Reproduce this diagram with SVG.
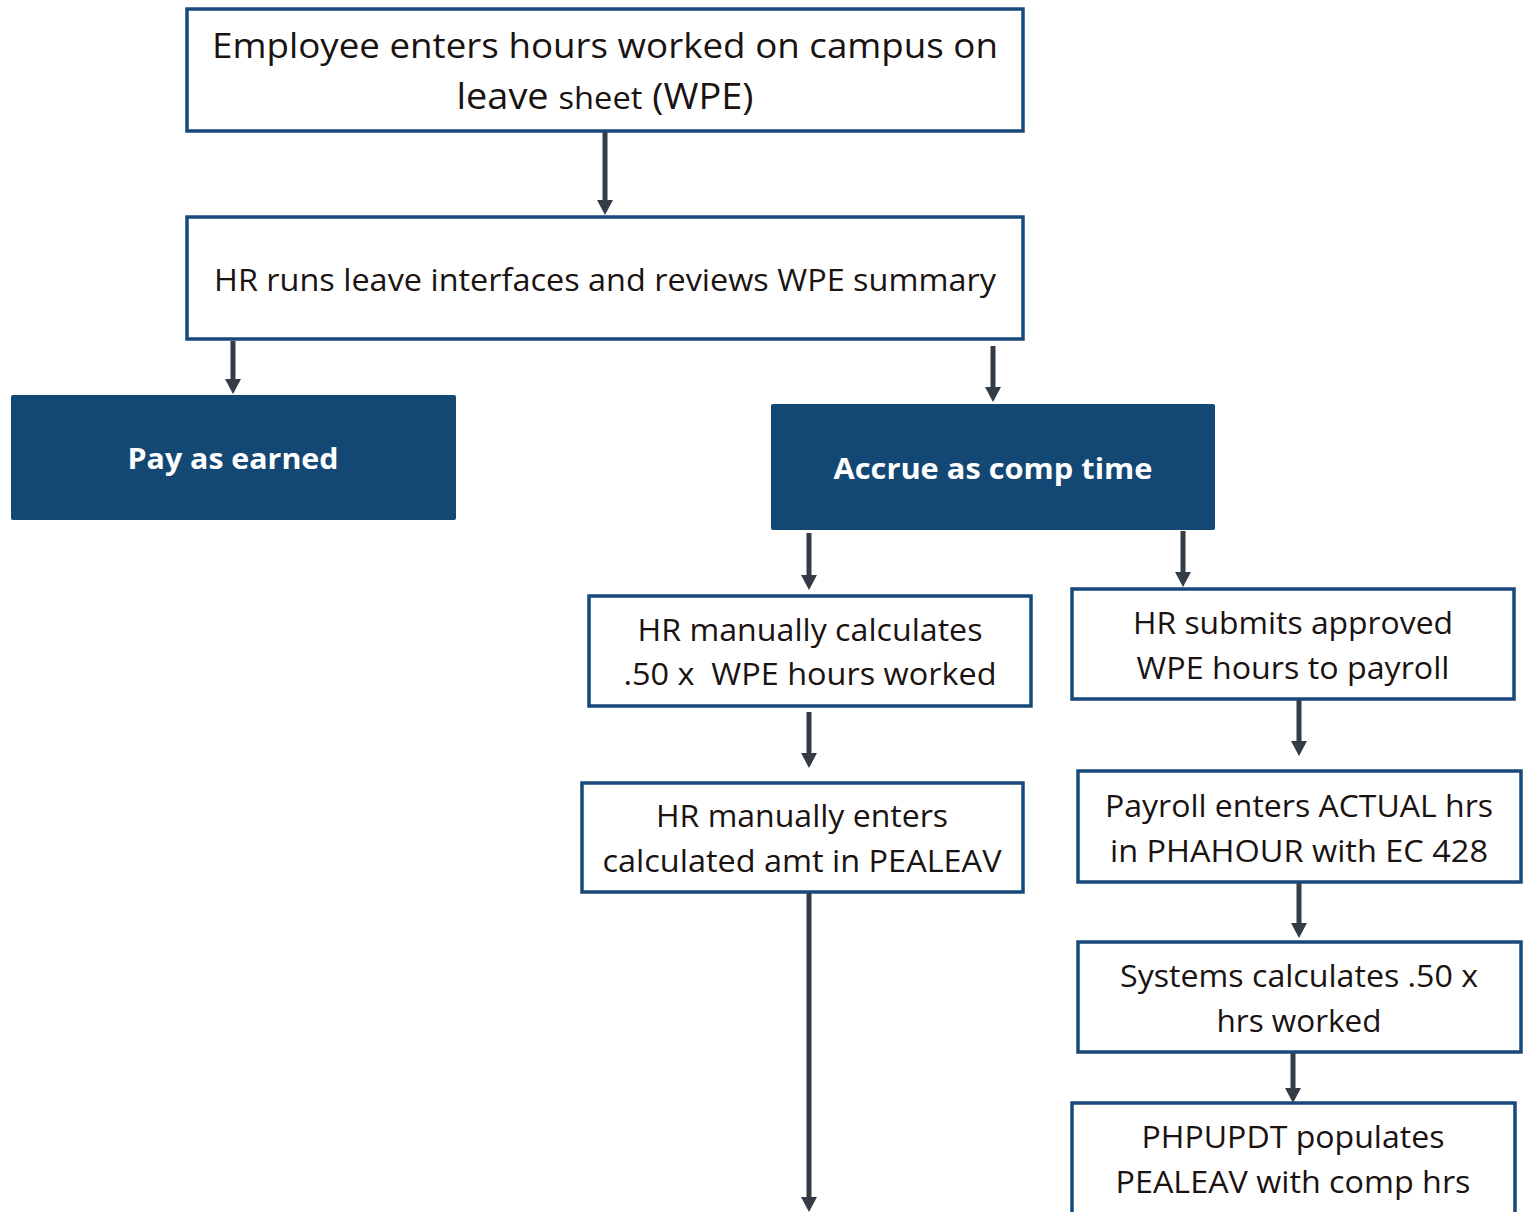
<svg xmlns="http://www.w3.org/2000/svg" width="1527" height="1212" viewBox="0 0 1527 1212">
<defs>
<marker id="ah" markerUnits="userSpaceOnUse" viewBox="0 -8 15 16" refX="0" refY="0" markerWidth="15" markerHeight="16" orient="auto">
<path d="M0,-8 L15,0 L0,8 z" fill="#343d45"/>
</marker>
</defs>
<style>
.box{fill:#ffffff;stroke:#17497a;stroke-width:3.5}
.dark{fill:#134874;stroke:none}
.t{font-family:"Open Sans","Noto Sans",sans-serif;fill:#1a1311;text-anchor:middle}
.w{font-family:"Open Sans","Noto Sans",sans-serif;fill:#ffffff;font-weight:bold;text-anchor:middle}
.c{stroke:#343d45;stroke-width:5;fill:none;marker-end:url(#ah)}
</style>
<rect width="1527" height="1212" fill="#ffffff"/>
<g id="connectors">
<line class="c" x1="605" y1="132" x2="605" y2="200"/>
<line class="c" x1="233" y1="341" x2="233" y2="379"/>
<line class="c" x1="993" y1="346" x2="993" y2="387"/>
<line class="c" x1="809" y1="533" x2="809" y2="575"/>
<line class="c" x1="1183" y1="531" x2="1183" y2="572"/>
<line class="c" x1="809" y1="712" x2="809" y2="753"/>
<line class="c" x1="1299" y1="700" x2="1299" y2="741"/>
<line class="c" x1="809" y1="893" x2="809" y2="1197"/>
<line class="c" x1="1299" y1="883" x2="1299" y2="923"/>
<line class="c" x1="1293" y1="1046" x2="1293" y2="1088"/>
</g>
<g id="n1">
<rect class="box" x="187" y="9" width="836" height="122"/>
<text class="t" x="605" y="58" font-size="34" textLength="786" lengthAdjust="spacingAndGlyphs">Employee enters hours worked on campus on</text>
<text class="t" x="605" y="109" font-size="36" textLength="297" lengthAdjust="spacingAndGlyphs"><tspan>leave </tspan><tspan font-size="31">sheet</tspan><tspan> (WPE)</tspan></text>
</g>
<g id="n2">
<rect class="box" x="187" y="217" width="836" height="122"/>
<text class="t" x="605" y="291" font-size="31" textLength="782" lengthAdjust="spacingAndGlyphs">HR runs leave interfaces and reviews WPE summary</text>
</g>
<g id="n3">
<rect class="dark" x="11" y="395" width="445" height="125" rx="2"/>
<text class="w" x="233" y="469" font-size="29" textLength="211" lengthAdjust="spacingAndGlyphs">Pay as earned</text>
</g>
<g id="n4">
<rect class="dark" x="771" y="404" width="444" height="126" rx="2"/>
<text class="w" x="993" y="479" font-size="29" textLength="319" lengthAdjust="spacingAndGlyphs">Accrue as comp time</text>
</g>
<g id="n5">
<rect class="box" x="589" y="596" width="442" height="110"/>
<text class="t" x="810" y="641" font-size="31" textLength="345" lengthAdjust="spacingAndGlyphs">HR manually calculates</text>
<text class="t" x="810" y="685" font-size="31" textLength="373" lengthAdjust="spacingAndGlyphs" xml:space="preserve" style="white-space:pre">.50 x  WPE hours worked</text>
</g>
<g id="n6">
<rect class="box" x="1072" y="589" width="442" height="110"/>
<text class="t" x="1293" y="634" font-size="31" textLength="320" lengthAdjust="spacingAndGlyphs">HR submits approved</text>
<text class="t" x="1293" y="679" font-size="31" textLength="313" lengthAdjust="spacingAndGlyphs">WPE hours to payroll</text>
</g>
<g id="n7">
<rect class="box" x="582" y="783" width="441" height="109"/>
<text class="t" x="802" y="827" font-size="31" textLength="292" lengthAdjust="spacingAndGlyphs">HR manually enters</text>
<text class="t" x="802" y="872" font-size="31" textLength="399" lengthAdjust="spacingAndGlyphs">calculated amt in PEALEAV</text>
</g>
<g id="n8">
<rect class="box" x="1078" y="771" width="443" height="111"/>
<text class="t" x="1299" y="817" font-size="31" textLength="388" lengthAdjust="spacingAndGlyphs">Payroll enters ACTUAL hrs</text>
<text class="t" x="1299" y="862" font-size="31" textLength="378" lengthAdjust="spacingAndGlyphs">in PHAHOUR with EC 428</text>
</g>
<g id="n9">
<rect class="box" x="1078" y="942" width="443" height="110"/>
<text class="t" x="1299" y="987" font-size="31" textLength="358" lengthAdjust="spacingAndGlyphs">Systems calculates .50 x</text>
<text class="t" x="1299" y="1032" font-size="31" textLength="165" lengthAdjust="spacingAndGlyphs">hrs worked</text>
</g>
<g id="n10">
<rect class="box" x="1072" y="1103" width="443" height="120"/>
<text class="t" x="1293" y="1148" font-size="31" textLength="303" lengthAdjust="spacingAndGlyphs">PHPUPDT populates</text>
<text class="t" x="1293" y="1193" font-size="31" textLength="355" lengthAdjust="spacingAndGlyphs">PEALEAV with comp hrs</text>
</g>
</svg>
